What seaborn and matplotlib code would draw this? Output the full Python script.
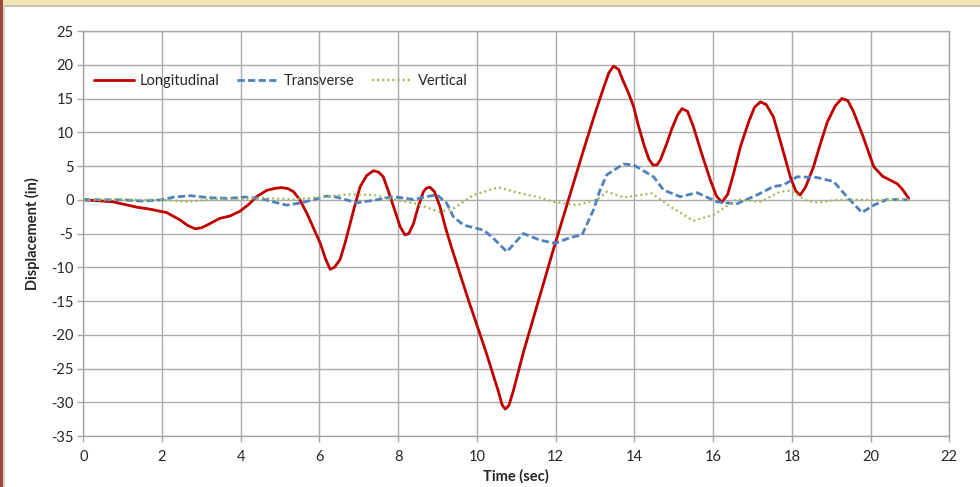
import numpy as np
import pandas as pd
import matplotlib
matplotlib.use("Agg")
import matplotlib.pyplot as plt
import seaborn as sns
from matplotlib.patches import Rectangle

# ---- data ----
long_t = [0, 0.75, 1.36, 1.7, 2.12, 2.46, 2.65, 2.84, 3.0, 3.13, 3.47, 3.73, 3.98, 4.2, 4.4, 4.66,
          4.88, 5.04, 5.2, 5.34, 5.5, 5.68, 6.02, 6.15, 6.27, 6.38, 6.52, 6.65, 6.78, 6.9, 7.03, 7.2,
          7.37, 7.5, 7.62, 7.75, 7.88, 8.05, 8.17, 8.27, 8.39, 8.5, 8.64, 8.72, 8.81, 8.92,
          9.06, 9.2, 9.36, 9.78, 10.21, 10.55, 10.64, 10.72, 10.81, 10.92, 11.18, 11.94, 12.71,
          13.0, 13.2, 13.35, 13.47, 13.6, 13.7, 13.85, 13.98, 14.1, 14.25, 14.37, 14.47, 14.57,
          14.66, 14.8, 14.95, 15.1, 15.21, 15.35, 15.5, 15.7, 15.93, 16.08, 16.22, 16.37, 16.52,
          16.7, 16.9, 17.05, 17.2, 17.35, 17.53, 17.75, 17.96, 18.1, 18.21, 18.35, 18.55, 18.72,
          18.9, 19.1, 19.27, 19.42, 19.57, 19.8, 20.08, 20.3, 20.5, 20.67, 20.8, 20.97]
long_y = [0, -0.3, -1.1, -1.4, -1.9, -3.0, -3.8, -4.3, -4.15, -3.8, -2.75, -2.4, -1.7, -0.7, 0.45, 1.4,
          1.7, 1.8, 1.65, 1.2, 0.0, -2.0, -6.45, -8.7, -10.3, -10.0, -8.9, -6.4, -3.5, -0.8, 1.9, 3.6,
          4.3, 4.1, 3.4, 1.3, -1.0, -4.0, -5.2, -5.0, -3.5, -1.2, 1.2, 1.75, 1.85, 1.2,
          -1.0, -4.1, -7.2, -14.8, -22.2, -28.5, -30.4, -31.0, -30.5, -28.4, -22.6, -7.4, 7.4,
          12.8, 16.3, 18.8, 19.8, 19.3, 17.8, 15.8, 13.8, 11.0, 8.0, 6.0, 5.15, 5.15,
          5.9, 8.0, 10.5, 12.6, 13.5, 13.1, 10.8, 7.0, 2.9, 0.6, -0.4, 0.8, 3.9,
          8.0, 11.5, 13.7, 14.5, 14.1, 12.3, 7.8, 3.4, 1.3, 0.7, 1.9, 4.9, 8.2,
          11.5, 13.9, 15.0, 14.7, 13.0, 9.5, 4.9, 3.5, 2.9, 2.4, 1.6, 0.2]

trans_t = [0, 1.0, 1.5, 2.0, 2.3, 2.72, 3.2, 3.7, 4.1, 4.49, 4.82, 5.17, 5.58, 6.18, 6.43, 6.95,
           7.45, 7.88, 8.39, 8.98, 9.23, 9.4, 9.66, 10.17, 10.38, 10.76, 11.18, 11.61, 11.99,
           12.37, 12.67, 12.96, 13.13, 13.3, 13.72, 13.98, 14.49, 14.74, 15.16, 15.59, 16.1,
           16.6, 17.11, 17.53, 17.79, 18.13, 18.64, 19.06, 19.4, 19.78, 20.08, 20.42, 20.97]
trans_y = [0, 0, -0.2, 0, 0.4, 0.6, 0.3, 0.2, 0.4, 0.2, -0.3, -0.8, -0.4, 0.55, 0.4, -0.45,
           0, 0.45, 0.05, 0.75, -0.5, -2.5, -3.75, -4.5, -5.5, -7.7, -5.0, -6.0, -6.45,
           -5.6, -5.2, -1.5, 1.5, 3.7, 5.3, 5.15, 3.4, 1.45, 0.45, 1.05, -0.3,
           -0.6, 0.7, 1.95, 2.2, 3.4, 3.3, 2.7, 0.45, -1.9, -0.8, 0.05, 0]

vert_t = [0, 2.0, 2.64, 3.2, 4.0, 4.49, 5.34, 6.02, 6.69, 7.37, 7.88, 8.47, 9.06, 9.4, 9.91,
          10.55, 11.1, 11.52, 11.94, 12.54, 13.05, 13.3, 13.72, 14.44, 14.91, 15.5, 16.01,
          16.6, 17.2, 17.7, 17.96, 18.38, 18.64, 19.2, 20.97]
vert_y = [0, 0, -0.3, 0, 0.1, 0.3, 0.05, 0.4, 0.8, 0.7, 0.05, -0.6, -1.8, -1.3, 0.7,
          1.85, 0.95, 0.45, -0.3, -0.8, 0.0, 1.2, 0.35, 0.95, -1.0, -3.1, -2.25,
          0.05, -0.3, 1.2, 1.35, -0.15, -0.4, 0, 0]

series_names = ["Longitudinal", "Transverse", "Vertical"]
x_ticks = list(range(0, 23, 2))
y_ticks = list(range(-35, 26, 5))

# ---- build table ----
df = pd.concat([
    pd.DataFrame({"t": long_t, "d": long_y, "s": series_names[0]}),
    pd.DataFrame({"t": trans_t, "d": trans_y, "s": series_names[1]}),
    pd.DataFrame({"t": vert_t, "d": vert_y, "s": series_names[2]}),
], ignore_index=True)

sns.set_theme(style="white")
plt.rcParams['font.family'] = ['Lato', 'DejaVu Sans']
plt.rcParams['axes.unicode_minus'] = False

fig = plt.figure(figsize=(9.8, 4.87), dpi=100)
ax = fig.add_axes([0.085, 0.1047, 0.8837, 0.8316])

colors = {"Longitudinal": "#c00000", "Transverse": "#4f81bd", "Vertical": "#9bbb59"}
styles = {"Longitudinal": dict(lw=2.0, ls="-"),
          "Transverse": dict(lw=2.0, ls=(0, (2.6, 1.2))),
          "Vertical": dict(lw=1.6, ls=(0, (0.9, 1.4)))}

for name in series_names:
    sub = df[df["s"] == name]
    sns.lineplot(data=sub, x="t", y="d", ax=ax, color=colors[name], label=name,
                 sort=False, estimator=None, linewidth=styles[name]["lw"],
                 linestyle=styles[name]["ls"], solid_joinstyle="round", solid_capstyle="round",
                 dash_joinstyle="round")

ax.set_xlim(0, 22)
ax.set_ylim(-35, 25)
ax.set_xticks(x_ticks)
ax.set_yticks(y_ticks)
ax.grid(True, color="#ababab", linewidth=1.0)
ax.set_axisbelow(True)
for sp in ax.spines.values():
    sp.set_color("#a6a6a6")
    sp.set_linewidth(1.0)
ax.tick_params(axis="both", which="major", direction="out", length=4, width=1.0,
               color="#a6a6a6", labelsize=10.5, labelcolor="#262626", pad=3,
               bottom=True, left=True)
ax.tick_params(axis="x", pad=6)
ax.set_xlabel("Time (sec)", fontsize=10.5, fontweight="bold", color="#262626", labelpad=4)
ax.set_ylabel("Displacement (in)", fontsize=10.5, fontweight="bold", color="#262626", labelpad=8)

leg = ax.legend(loc="upper left", bbox_to_anchor=(0.0, 0.92), ncol=3, frameon=False,
                fontsize=10.5, handlelength=2.8, handletextpad=0.35, columnspacing=1.25,
                borderaxespad=0.3)
for txt in leg.get_texts():
    txt.set_color("#262626")

# window decorations
fig.add_artist(Rectangle((0, 1 - 5 / 487), 1, 5 / 487, transform=fig.transFigure,
                         facecolor="#f3e4b8", edgecolor="none"))
fig.add_artist(Rectangle((0, 1 - 7 / 487), 1, 2 / 487, transform=fig.transFigure,
                         facecolor="#c8c0a8", edgecolor="none"))
fig.add_artist(Rectangle((0, 0), 3 / 980, 1, transform=fig.transFigure,
                         facecolor="#9b4a3c", edgecolor="none"))
fig.add_artist(Rectangle((3 / 980, 0), 2 / 980, 1 - 5 / 487, transform=fig.transFigure,
                         facecolor="#d8d2cc", edgecolor="none"))

fig.savefig("out.png", dpi=100)
